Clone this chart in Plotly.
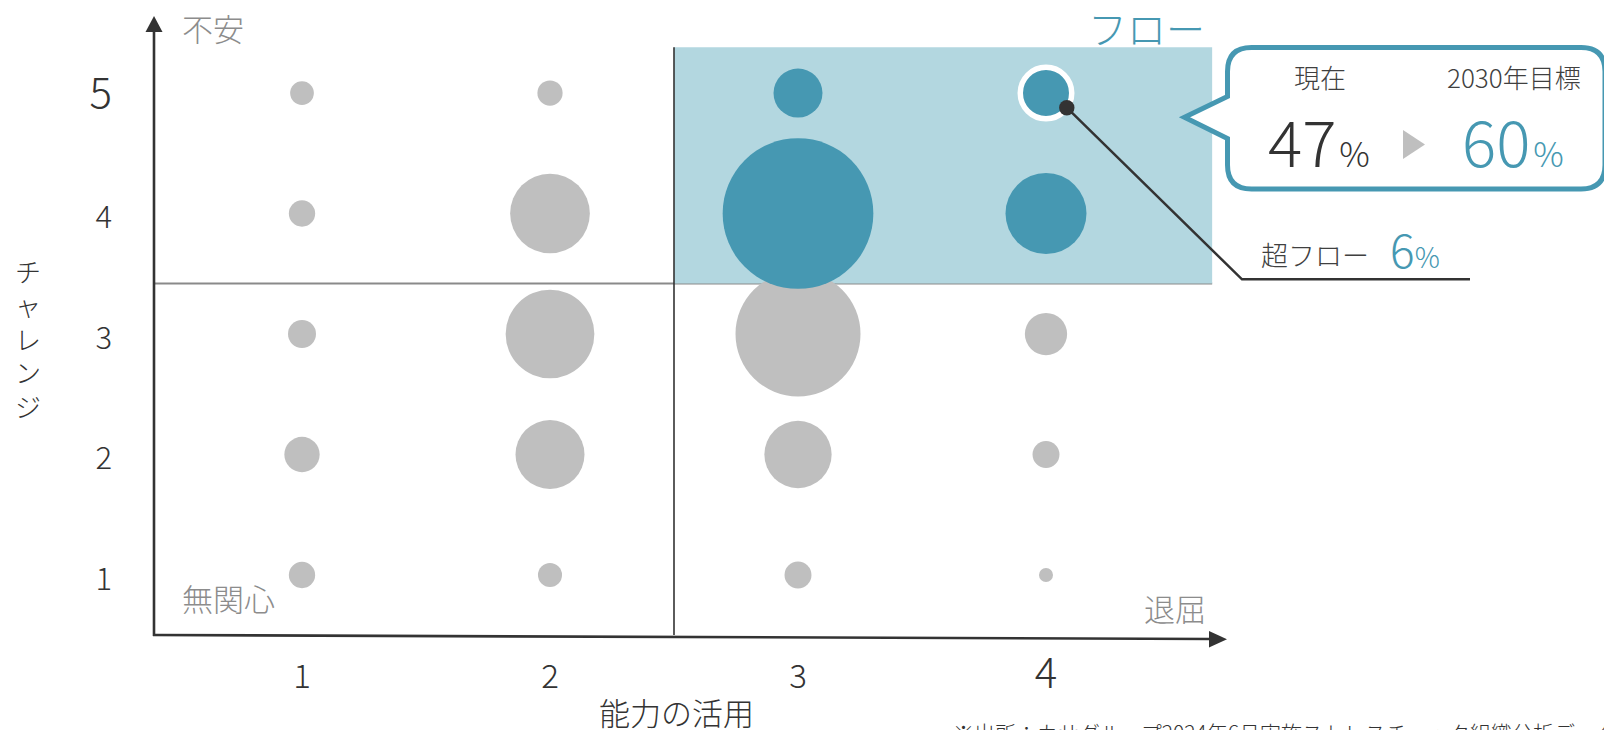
import plotly.graph_objects as go

# ---------------- data ----------------
X_LEVELS = [1, 2, 3, 4]          # 能力の活用
Y_LEVELS = [5, 4, 3, 2, 1]       # チャレンジ (rows, top to bottom)
# share of respondents (%) per cell
SHARE_Y5 = [0.69, 0.78, 2.94, 3.25]
SHARE_Y4 = [0.85, 7.79, 27.85, 8.04]
SHARE_Y3 = [0.96, 9.65, 19.16, 2.19]
SHARE_Y2 = [1.53, 5.84, 5.55, 0.89]
SHARE_Y1 = [0.85, 0.71, 0.89, 0.24]
SHARE_ROWS = [SHARE_Y5, SHARE_Y4, SHARE_Y3, SHARE_Y2, SHARE_Y1]

X_TICKS = [1, 2, 3, 4]
X_TICKTEXT = ["1", "2", "3", "4"]
Y_TICKS = [1, 2, 3, 4, 5]
Y_TICKTEXT = ["1", "2", "3", "4", "5"]

FLOW_NOW = "47"
FLOW_2030 = "60"
SUPER_FLOW = "6"
SUPER_FLOW_CELL = (4, 5)

# ---------------- style ----------------
FONT = "Noto Sans CJK JP"
TEAL = "#4698B2"
TEAL_BG = "#B3D7E0"
GRAY = "#BFBFBF"
DARK = "#333333"
TEXT2 = "#404040"
LABEL_GRAY = "#8C8C8C"

W, H = 1604, 730
ML, MR, MT, MB = 154, 379, 17, 95
PW, PH = W - ML - MR, H - MT - MB
XR = [0.4032, 4.7218]
YR = [0.502, 5.631]
X_SPLIT, Y_SPLIT = 2.5, 3.42
FLOW_X1, FLOW_Y1 = 4.67, 5.38
MAX_DIAM = 150.7


def px(x):
    return (x - ML) / PW


def py(y):
    return (H - MB - y) / PH


def data_to_px(x, y):
    return (ML + (x - XR[0]) / (XR[1] - XR[0]) * PW,
            MT + (YR[1] - y) / (YR[1] - YR[0]) * PH)


xs, ys, vals = [], [], []
for yv, row in zip(Y_LEVELS, SHARE_ROWS):
    for xv, s in zip(X_LEVELS, row):
        xs.append(xv)
        ys.append(yv)
        vals.append(s)

sizeref = 2 * max(vals) / MAX_DIAM ** 2

g_idx = [i for i in range(len(xs)) if not (xs[i] > X_SPLIT and ys[i] > Y_SPLIT)]
f_idx = [i for i in range(len(xs)) if (xs[i] > X_SPLIT and ys[i] > Y_SPLIT)
         and (xs[i], ys[i]) != SUPER_FLOW_CELL]
h_idx = [i for i in range(len(xs)) if (xs[i], ys[i]) == SUPER_FLOW_CELL]


def sub(lst, idx):
    return [lst[i] for i in idx]


fig = go.Figure()
fig.add_trace(go.Scatter(
    x=sub(xs, g_idx), y=sub(ys, g_idx), mode="markers",
    marker=dict(size=sub(vals, g_idx), sizemode="area", sizeref=sizeref,
                color=GRAY, line=dict(width=0), opacity=1),
    hoverinfo="skip", showlegend=False))
fig.add_trace(go.Scatter(
    x=sub(xs, f_idx), y=sub(ys, f_idx), mode="markers",
    marker=dict(size=sub(vals, f_idx), sizemode="area", sizeref=sizeref,
                color=TEAL, line=dict(width=0), opacity=1),
    hoverinfo="skip", showlegend=False))
fig.add_trace(go.Scatter(
    x=sub(xs, h_idx), y=sub(ys, h_idx), mode="markers",
    marker=dict(size=sub(vals, h_idx), sizemode="area", sizeref=sizeref,
                color=TEAL, line=dict(width=5.5, color="white"), opacity=1),
    hoverinfo="skip", showlegend=False))

shapes = []
# flow region
shapes.append(dict(type="rect", xref="x", yref="y", x0=X_SPLIT, x1=FLOW_X1,
                   y0=Y_SPLIT, y1=FLOW_Y1, fillcolor=TEAL_BG, line=dict(width=0),
                   layer="below"))
# horizontal divider
shapes.append(dict(type="line", xref="paper", yref="y", x0=0, x1=(FLOW_X1 - XR[0]) / (XR[1] - XR[0]),
                   y0=Y_SPLIT, y1=Y_SPLIT, line=dict(color="#8A8A8A", width=2), layer="below"))
# vertical divider
shapes.append(dict(type="line", xref="x", yref="y", x0=X_SPLIT, x1=X_SPLIT,
                   y0=YR[0], y1=FLOW_Y1, line=dict(color=DARK, width=1.6), layer="below"))
# y axis + arrow
shapes.append(dict(type="line", xref="paper", yref="paper", x0=px(154), x1=px(154),
                   y0=py(636), y1=py(28), line=dict(color=DARK, width=2.6)))
shapes.append(dict(type="path", xref="paper", yref="paper",
                   path=f"M{px(154)},{py(16)} L{px(162.5)},{py(32)} L{px(145.5)},{py(32)} Z",
                   fillcolor=DARK, line=dict(width=0)))
# x axis + arrow
shapes.append(dict(type="line", xref="paper", yref="paper", x0=px(153), x1=px(1212),
                   y0=py(635), y1=py(639), line=dict(color=DARK, width=2.6)))
shapes.append(dict(type="path", xref="paper", yref="paper",
                   path=f"M{px(1227)},{py(639.3)} L{px(1209)},{py(631)} L{px(1209)},{py(647.5)} Z",
                   fillcolor=DARK, line=dict(width=0)))


def pix_path(pts):
    out = ""
    for p in pts:
        cmd = p[0]
        coords = p[1:]
        segs = []
        for k in range(0, len(coords), 2):
            segs.append(f"{px(coords[k])},{py(coords[k + 1])}")
        out += cmd + " ".join(segs) + " "
    return out


# callout box
R = 24
BL, BT, BR, BB = 1227.5, 47.5, 1605, 189
box = pix_path([
    ("M", BL, BT + R), ("Q", BL, BT, BL + R, BT), ("L", BR - R, BT),
    ("Q", BR, BT, BR, BT + R), ("L", BR, BB - R), ("Q", BR, BB, BR - R, BB),
    ("L", BL + R, BB), ("Q", BL, BB, BL, BB - R), ("L", BL, 138.5),
    ("L", 1184.5, 117.3), ("L", BL, 96.5),
]) + "Z"
shapes.append(dict(type="path", xref="paper", yref="paper", path=box,
                   fillcolor="white", line=dict(color=TEAL, width=5)))
# grey arrow triangle in box
shapes.append(dict(type="path", xref="paper", yref="paper",
                   path=pix_path([("M", 1403, 130), ("L", 1425, 144.5), ("L", 1403, 159)]) + "Z",
                   fillcolor=GRAY, line=dict(width=0)))

# leader line from super-flow bubble
ax, ay = data_to_px(*SUPER_FLOW_CELL)
dot = (ax + 20.8, ay + 14.7)
shapes.append(dict(type="path", xref="paper", yref="paper",
                   path=pix_path([("M", dot[0], dot[1]), ("L", ax + 196, ay + 186.3),
                                  ("L", ax + 424, ay + 186.3)]),
                   line=dict(color=DARK, width=2.5)))
shapes.append(dict(type="circle", xref="paper", yref="paper",
                   x0=px(dot[0] - 7.7), x1=px(dot[0] + 7.7),
                   y0=py(dot[1] + 7.7), y1=py(dot[1] - 7.7),
                   fillcolor=DARK, line=dict(width=0)))


def ann(text, x, y, size, color, xanchor="center", yanchor="middle"):
    return dict(text=text, x=px(x), y=py(y), xref="paper", yref="paper", showarrow=False,
                font=dict(size=size, color=color, family=FONT, weight=300),
                xanchor=xanchor, yanchor=yanchor)


annotations = [
    ann("不安", 180, 28, 31, LABEL_GRAY, xanchor="left"),
    ann("無関心", 180, 597, 31, LABEL_GRAY, xanchor="left"),
    ann("退屈", 1208, 607, 31, LABEL_GRAY, xanchor="right"),
    ann("フロー", 1086, 27, 39, TEAL, xanchor="left"),
    ann("チ<br>ャ<br>レ<br>ン<br>ジ", 28, 338, 26, DARK),
    ann("能力の活用", 676, 711, 31, DARK),
    ann("※出所：カサグループ2024年6月実施ストレスチェック組織分析データ", 951, 715, 21, DARK,
        xanchor="left", yanchor="top"),
    ann("現在", 1320, 76, 26, TEXT2),
    ann("2030年目標", 1514, 76, 26, TEXT2),
    ann(FLOW_NOW + "<span style='font-size:12px'> </span><span style='font-size:34px'>%</span>",
        1266, 139, 64, DARK, xanchor="left"),
    ann(FLOW_2030 + "<span style='font-size:12px'> </span><span style='font-size:34px'>%</span>",
        1460, 139, 64, TEAL, xanchor="left"),
    ann("超フロー", 1259, 254, 27, TEXT2, xanchor="left"),
    ann(SUPER_FLOW + "<span style='font-size:28px'>%</span>", 1388, 248, 46, TEAL, xanchor="left"),
]

x_ticktext = X_TICKTEXT[:-1] + [f"<span style='font-size:42px'>{X_TICKTEXT[-1]}</span>"]
y_ticktext = Y_TICKTEXT[:-1] + [f"<span style='font-size:42px'>{Y_TICKTEXT[-1]}</span>"]

fig.update_layout(
    width=W, height=H,
    margin=dict(l=ML, r=MR, t=MT, b=MB, pad=0),
    paper_bgcolor="white", plot_bgcolor="white",
    font=dict(family=FONT, color=DARK),
    xaxis=dict(range=XR, showgrid=False, zeroline=False, showline=False,
               tickvals=X_TICKS, ticktext=x_ticktext, ticks="",
               tickfont=dict(size=33, color=DARK, family=FONT, weight=300),
               ticklabelstandoff=19, fixedrange=True),
    yaxis=dict(range=YR, showgrid=False, zeroline=False, showline=False,
               tickvals=Y_TICKS, ticktext=y_ticktext, ticks="",
               tickfont=dict(size=31, color=DARK, family=FONT, weight=300),
               ticklabelstandoff=41, ticklabelshift=4, fixedrange=True),
    shapes=shapes,
    annotations=annotations,
    showlegend=False,
)

fig.write_html("out.html", config={"displayModeBar": False})
